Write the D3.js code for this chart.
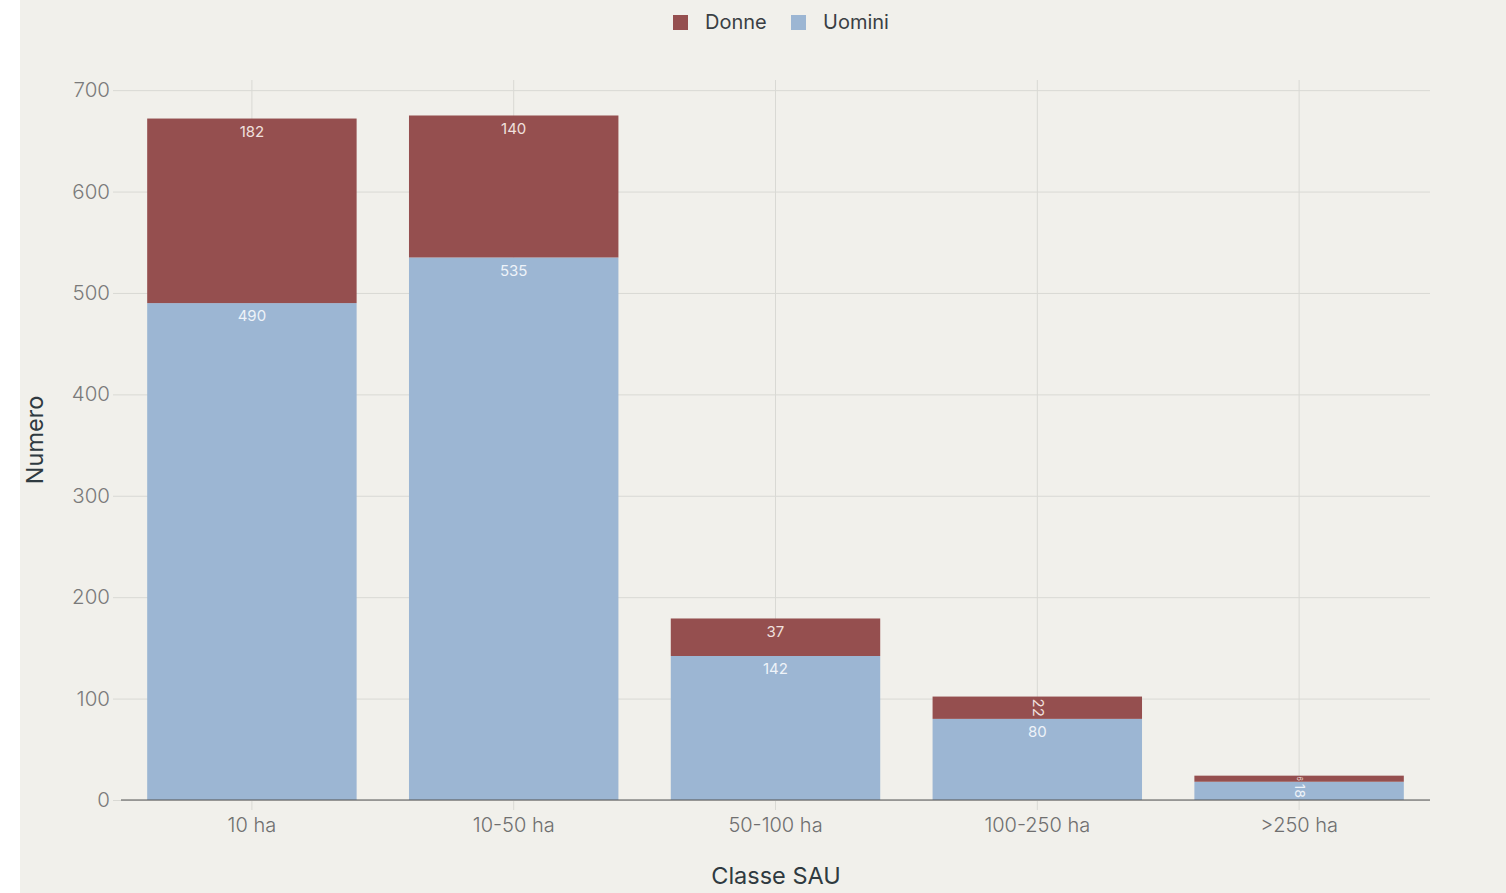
<!DOCTYPE html>
<html><head><meta charset="utf-8">
<script src="https://cdn.jsdelivr.net/npm/d3@7"></script>
<style>
html,body{margin:0;padding:0;background:#fff;}
svg{display:block;}
text{font-family:Inter,"Liberation Sans",Arial,sans-serif;}
</style></head>
<body>
<svg id="c" width="1506" height="893"></svg>
<script>
const categories = ["10 ha","10-50 ha","50-100 ha","100-250 ha",">250 ha"];
const uomini = [490,535,142,80,18];
const donne = [182,140,37,22,6];
const yTicks = [0,100,200,300,400,500,600,700];
const seriesNames = ["Donne","Uomini"];
const seriesColors = ["#954f4f","#9cb6d3"];

const svg = d3.select("#c");
svg.append("rect").attr("x",20).attr("y",0).attr("width",1486).attr("height",893).attr("fill","#f1f0eb");

const x = d3.scaleBand().domain(categories).range([121,1430]).paddingInner(0.2).paddingOuter(0.1);
const y = d3.scaleLinear().domain([0,710]).range([800,80]);

// horizontal grid
const gy = svg.append("g").attr("transform","translate(121,0)")
  .call(d3.axisLeft(y).tickValues(yTicks).tickSize(8).tickFormat(d3.format("d")));
gy.select(".domain").remove();
gy.selectAll(".tick line").attr("stroke","#d9d9d4").attr("x2",1309).attr("x1",-8);
gy.selectAll(".tick text").attr("x",-11).attr("fill","#7a7a7a").style("font-size","20.5px").style("font-weight","300");

// vertical grid
const gx = svg.append("g").attr("transform","translate(0,800)")
  .call(d3.axisBottom(x).tickSize(10).tickPadding(8));
gx.select(".domain").remove();
gx.selectAll(".tick line").attr("stroke","#d9d9d4").attr("y1",-720).attr("y2",10);
gx.selectAll(".tick text").attr("fill","#6f6f6f").style("font-size","20px").style("font-weight","300");

// bars
const data = categories.map((c,i)=>({c, u:uomini[i], d:donne[i]}));
const bars = svg.append("g");
bars.selectAll("rect.u").data(data).join("rect").attr("class","u")
  .attr("x",d=>x(d.c)).attr("width",x.bandwidth())
  .attr("y",d=>y(d.u)).attr("height",d=>y(0)-y(d.u)).attr("fill",seriesColors[1]);
bars.selectAll("rect.d").data(data).join("rect").attr("class","d")
  .attr("x",d=>x(d.c)).attr("width",x.bandwidth())
  .attr("y",d=>y(d.u+d.d)).attr("height",d=>y(d.u)-y(d.u+d.d)).attr("fill",seriesColors[0]);

// axis line
svg.append("line").attr("x1",121).attr("x2",1430).attr("y1",800).attr("y2",800).attr("stroke","#555").attr("stroke-width",1.2);

// labels
function addLabel(cx, top, bottom, val, color){
  const h = bottom - top;
  if (h >= 26) {
    svg.append("text").attr("x",cx).attr("y",top+14).attr("text-anchor","middle")
      .attr("dominant-baseline","middle").attr("fill",color).style("font-size","15px").text(val);
  } else {
    const fs = Math.max(7, Math.min(15, h*0.75));
    svg.append("text").attr("transform",`translate(${cx},${(top+bottom)/2}) rotate(90)`)
      .attr("text-anchor","middle").attr("dominant-baseline","middle").attr("fill",color)
      .style("font-size",fs+"px").text(val);
  }
}
data.forEach(d=>{
  const cx = x(d.c)+x.bandwidth()/2;
  addLabel(cx, y(d.u+d.d), y(d.u), d.d, "#f0e0de");
  addLabel(cx, y(d.u), y(0), d.u, "#eef3f9");
});

// axis titles
svg.append("text").attr("x",776).attr("y",884).attr("text-anchor","middle").attr("fill","#2f3a40").style("font-size","23.5px").text("Classe SAU");
svg.append("text").attr("transform","translate(43,440) rotate(-90)").attr("text-anchor","middle").attr("fill","#2f3a40").style("font-size","23.5px").text("Numero");

// legend
const leg = svg.append("g");
const legX = [673, 791];
seriesNames.forEach((n,i)=>{
  leg.append("rect").attr("x",legX[i]).attr("y",15).attr("width",15).attr("height",15).attr("fill",seriesColors[i]);
  leg.append("text").attr("x",legX[i]+32).attr("y",24).attr("dominant-baseline","middle").attr("fill","#3a3f44").style("font-size","20px").text(n);
});
</script>
</body></html>
